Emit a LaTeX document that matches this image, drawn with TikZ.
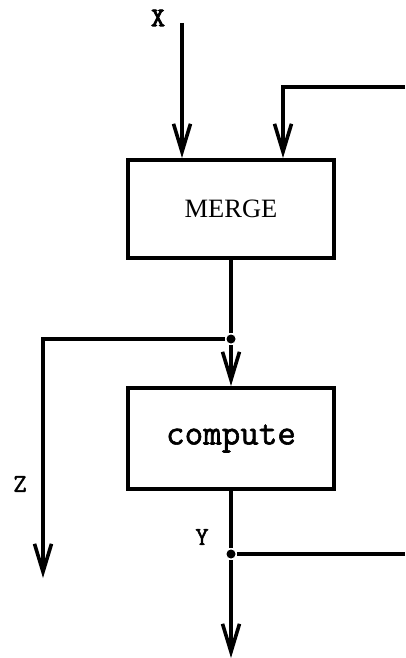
\documentclass[tikz,border=0pt]{standalone}
\usepackage{fontspec}
\newfontfamily\opserif{Liberation Serif}
\newfontfamily\opmono[FakeBold=1.6]{Latin Modern Mono}
\newfontfamily\opmonoheavy[FakeBold=3.5]{Latin Modern Mono}
\usetikzlibrary{arrows.meta,calc}
\begin{document}
\begin{tikzpicture}[
  x=1pt, y=-1pt,
  line width=3.8pt,
  box/.style={draw, line width=4pt, minimum width=206pt, inner sep=0pt},
  flow/.style={-{Straight Barb[length=28pt,width=17pt,line width=3.6pt]}},
  lbl/.style={font=\opmono\fontsize{26}{28}\selectfont},
  dot/.style={circle, fill=black, inner sep=0pt, minimum size=9pt},
]
\useasboundingbox (0,0) rectangle (405,658);
% operators
\node[box, minimum height=98pt, font=\opserif\fontsize{26.5}{30}\selectfont] (merge) at (231,209) {MERGE};
\node[box, minimum height=101pt, font=\opmono\fontsize{36}{40}\selectfont] (compute) at (231,438.5) {compute};
% junctions and free ends
\node[dot] (split1) at (231,339) {};
\node[dot] (split2) at (231,554) {};
\coordinate (xtop) at (182,23);
\coordinate (fbin) at (405,87);
\coordinate (fbout) at (405,554);
\coordinate (zout) at (43,578);
\coordinate (yout) at (231,658);
% labels
\node[lbl, font=\opmonoheavy\fontsize{27}{28}\selectfont] (xlab) at (158,18) {X};
\node[lbl] (zlab) at (20,484) {Z};
\node[lbl] (ylab) at (202,537) {Y};
% connectors
\draw[flow] (xtop) -- (xtop |- merge.north);
\draw[flow] (fbin) -| ([xshift=52pt]merge.north);
\draw (merge.south) -- (split1);
\draw[flow] (split1) -- (compute.north);
\draw[flow] (split1) -| (zout);
\draw (compute.south) -- (split2);
\draw (split2) -- (fbout);
\draw[flow] (split2) -- (yout);
\end{tikzpicture}
\end{document}
